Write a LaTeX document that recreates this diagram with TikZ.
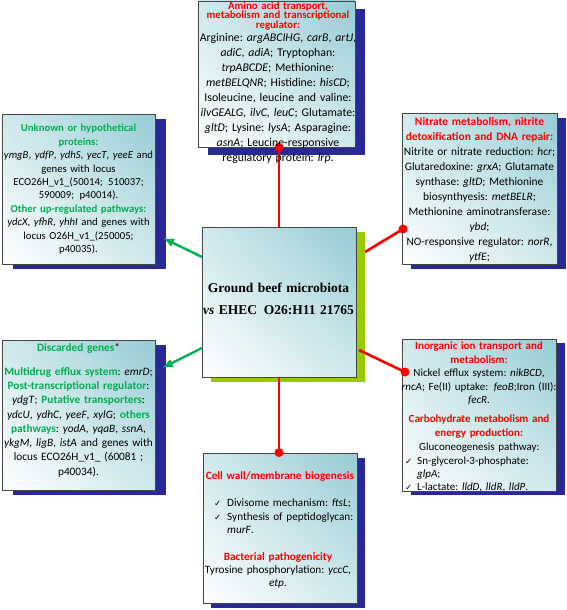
\documentclass[tikz,border=0pt]{standalone}
\usepackage{fontspec}
\setmainfont{Carlito}
\newfontfamily\tnrfont{Liberation Serif}
\newfontfamily\chkfont{DejaVu Sans}
\usetikzlibrary{shadings,arrows.meta,calc}
\pgfdeclarelayer{bg}
\pgfsetlayers{bg,main}
\frenchspacing
\definecolor{rd}{RGB}{255,0,0}
\definecolor{gn}{RGB}{0,176,80}
\definecolor{shblue}{RGB}{40,40,150}
\definecolor{shgreen}{RGB}{153,204,0}
\definecolor{tealA}{RGB}{150,204,212}
\definecolor{tealB}{RGB}{208,233,236}
\definecolor{bord}{RGB}{70,70,70}
\newcommand{\grn}[1]{\textcolor{gn}{\textbf{#1}}}
\newcommand{\rdt}[1]{\textcolor{rd}{\textbf{#1}}}
\newcommand{\chkmark}{{\chkfont\fontsize{8.5}{9}\selectfont\char"2713}}
\newcommand{\chkitem}[1]{\leavevmode\llap{\chkmark\hspace{#1}}}
\tikzset{
  panel/.style={draw=bord, line width=0.8pt, shade, shading=bilinear interpolation,
    lower left=white, upper left=tealB, upper right=tealA, lower right=tealB, inner sep=0pt},
  ctext/.style={inner sep=0pt, text width=200pt, align=center, anchor=base},
  ltext/.style={inner sep=0pt, text width=160pt, align=left, anchor=base west},
  redline/.style={draw=rd, line width=2.6pt},
  reddot/.style={fill=rd},
  grnarrow/.style={draw=gn, line width=2.4pt, -{Latex[length=11pt,width=9pt]}},
}
\begin{document}
\frenchspacing
\begin{tikzpicture}[x=1pt,y=-1pt]
\useasboundingbox (0,0) rectangle (567,610);
% boxes
\node[panel, minimum width=157pt, minimum height=146pt] (top) at (276.5,74) {};
\node[panel, minimum width=153pt, minimum height=150pt] (lt) at (78.5,189) {};
\node[panel, minimum width=155pt, minimum height=151pt] (rt) at (479.5,188.5) {};
\node[panel, minimum width=154pt, minimum height=150pt] (hub) at (279,302) {};
\node[panel, minimum width=153pt, minimum height=150pt] (bl) at (78.5,415) {};
\node[panel, minimum width=154pt, minimum height=152pt] (br) at (479,415) {};
\node[panel, minimum width=154pt, minimum height=150pt] (bt) at (280,528) {};
% shadows
\begin{pgfonlayer}{bg}
  \fill[white] (0,0) rectangle (567,610);
  \fill[shblue] ($(top.south west)+(10,8)$) rectangle ($(top.north east)+(10,8)$);
  \fill[shblue] ($(lt.south west)+(11,5)$) rectangle ($(lt.north east)+(11,5)$);
  \fill[shblue] ($(rt.south west)+(9,5)$) rectangle ($(rt.north east)+(9,5)$);
  \fill[shgreen] ($(hub.south west)+(9,5)$) rectangle ($(hub.north east)+(9,5)$);
  \fill[shblue] ($(bl.south west)+(11,5)$) rectangle ($(bl.north east)+(11,5)$);
  \fill[shblue] ($(br.south west)+(9,4)$) rectangle ($(br.north east)+(9,4)$);
  \fill[shblue] ($(bt.south west)+(8,5)$) rectangle ($(bt.north east)+(8,5)$);
\end{pgfonlayer}
% connectors
\coordinate (topend) at (hub.north |- top.south);
\coordinate (btend) at (hub.south |- bt.north);
\coordinate (rtA) at (365,252);
\coordinate (rtB) at (403,229);
\coordinate (brA) at (359,350);
\coordinate (brB) at (405,372);
\coordinate (ltA) at (202,257);
\coordinate (ltB) at (163,238);
\coordinate (blA) at (202,348);
\coordinate (blB) at (162,368);
\draw[redline] (hub.north) -- (topend);
\fill[reddot] (topend) circle (4.5pt);
\draw[redline] (hub.south) -- (btend);
\fill[reddot] (btend) circle (4.5pt);
\draw[redline] (rtA) -- (rtB);
\fill[reddot] (rtB) circle (4.5pt);
\draw[redline] (brA) -- (brB);
\fill[reddot] (brB) circle (4.5pt);
\draw[grnarrow] (ltA) -- (ltB);
\draw[grnarrow] (blA) -- (blB);
% top box text
\node[ctext, font=\fontsize{10.8}{9.7}\selectfont\bfseries, text=rd] (toptitle) at (278,9.3)
  {Amino acid transport,\\metabolism and transcriptional\\regulator:};
\node[ctext, font=\fontsize{11.8}{15}\selectfont] (topbody) at (278,41.7)
  {Arginine: \textit{argABCIHG}, \textit{carB}, \textit{artJ},\\
   \textit{adiC}, \textit{adiA}; Tryptophan:\\
   \textit{trpABCDE}; Methionine:\\
   \textit{metBELQNR}; Histidine: \textit{hisCD};\\
   Isoleucine, leucine and valine:\\
   \textit{ilvGEALG}, \textit{ilvC}, \textit{leuC}; Glutamate:\\
   \textit{gltD}; Lysine: \textit{lysA}; Asparagine:\\
   \textit{asnA}; Leucine-responsive\\
   regulatory protein: \textit{lrp}.};
% left top text
\node[ctext, font=\fontsize{10.7}{13.4}\selectfont] (lttext) at (78.5,131.8)
  {\grn{Unknown or hypothetical}\\
   \grn{proteins:}\\
   \textit{ymgB}, \textit{ydfP}, \textit{ydhS}, \textit{yecT}, \textit{yeeE} and\\
   genes with locus\\
   ECO26H\_v1\_(50014;\enspace 510037;\\
   590009;\enspace p40014).\\
   \grn{Other up-regulated pathways:}\\
   \textit{ydcX}, \textit{yfhR}, \textit{yhhI} and genes with\\
   locus O26H\_v1\_(250005;\\
   p40035).};
% right top text
\node[ctext, font=\fontsize{11.4}{15}\selectfont] (rttext) at (479.5,125.5)
  {\rdt{Nitrate metabolism, nitrite}\\
   \rdt{detoxification and DNA repair:}\\
   Nitrite or nitrate reduction: \textit{hcr};\\
   Glutaredoxine: \textit{grxA}; Glutamate\\
   synthase: \textit{gltD}; Methionine\\
   biosynthyesis: \textit{metBELR};\\
   Methionine aminotransferase:\\
   \textit{ybd};\\
   NO-responsive regulator: \textit{norR},\\
   \textit{ytfE};};
% hub text
\node[ctext, font=\tnrfont\fontsize{13.5}{21.3}\selectfont\bfseries] (hubtext) at (278.5,292.7)
  {Ground beef microbiota\\\textit{vs} EHEC\enspace O26:H11 21765};
% bottom left text
\node[ctext, font=\fontsize{11.3}{14.3}\selectfont] (bltext) at (78.5,351.8)
  {\grn{Discarded genes}*\\[9pt]
   \grn{Multidrug efflux system}: \textit{emrD};\\
   \grn{Post-transcriptional regulator}:\\
   \textit{ydgT}; \grn{Putative transporters}:\\
   \textit{ydcU}, \textit{ydhC}, \textit{yeeF}, \textit{xylG}; \grn{others}\\
   \grn{pathways}: \textit{yodA}, \textit{yqaB}, \textit{ssnA},\\
   \textit{ykgM}, \textit{ligB}, \textit{istA} and genes with\\
   locus ECO26H\_v1\_ (60081 ;\\
   p40034).};
% bottom right text
\node[ctext, font=\fontsize{11}{13.5}\selectfont] (brtext) at (479,349.5)
  {\rdt{Inorganic ion transport and}\\
   \rdt{metabolism:}\\
   Nickel efflux system: \textit{nikBCD},\\
   \textit{rncA}; Fe(II) uptake:\enspace\textit{feoB};Iron (III):\\
   \textit{fecR}.\\[5.8pt]
   \rdt{Carbohydrate metabolism and}\\
   \rdt{energy production:}};
\node[ltext, font=\fontsize{11}{13.3}\selectfont] (brlist) at (417,450.8)
  {\hspace{2pt}Gluconeogenesis pathway:\\
   \chkitem{5pt}Sn-glycerol-3-phosphate:\\
   \textit{glpA};\\
   \chkitem{5pt}L-lactate: \textit{lldD}, \textit{lldR}, \textit{lldP}.};
% bottom text
\node[ctext, font=\fontsize{11.2}{13.3}\selectfont] (bttitle) at (280,479.5)
  {\rdt{Cell wall/membrane biogenesis}};
\node[ltext, font=\fontsize{11.2}{13.3}\selectfont] (btlist) at (227,506.8)
  {\chkitem{6pt}Divisome mechanism: \textit{ftsL};\\
   \chkitem{6pt}Synthesis of peptidoglycan:\\
   \textit{murF}.};
\node[ctext, font=\fontsize{11.2}{13.3}\selectfont] (btpath) at (278,560.2)
  {\rdt{Bacterial pathogenicity}\\
   Tyrosine phosphorylation: \textit{yccC},\\
   \textit{etp}.};
\end{tikzpicture}
\end{document}
